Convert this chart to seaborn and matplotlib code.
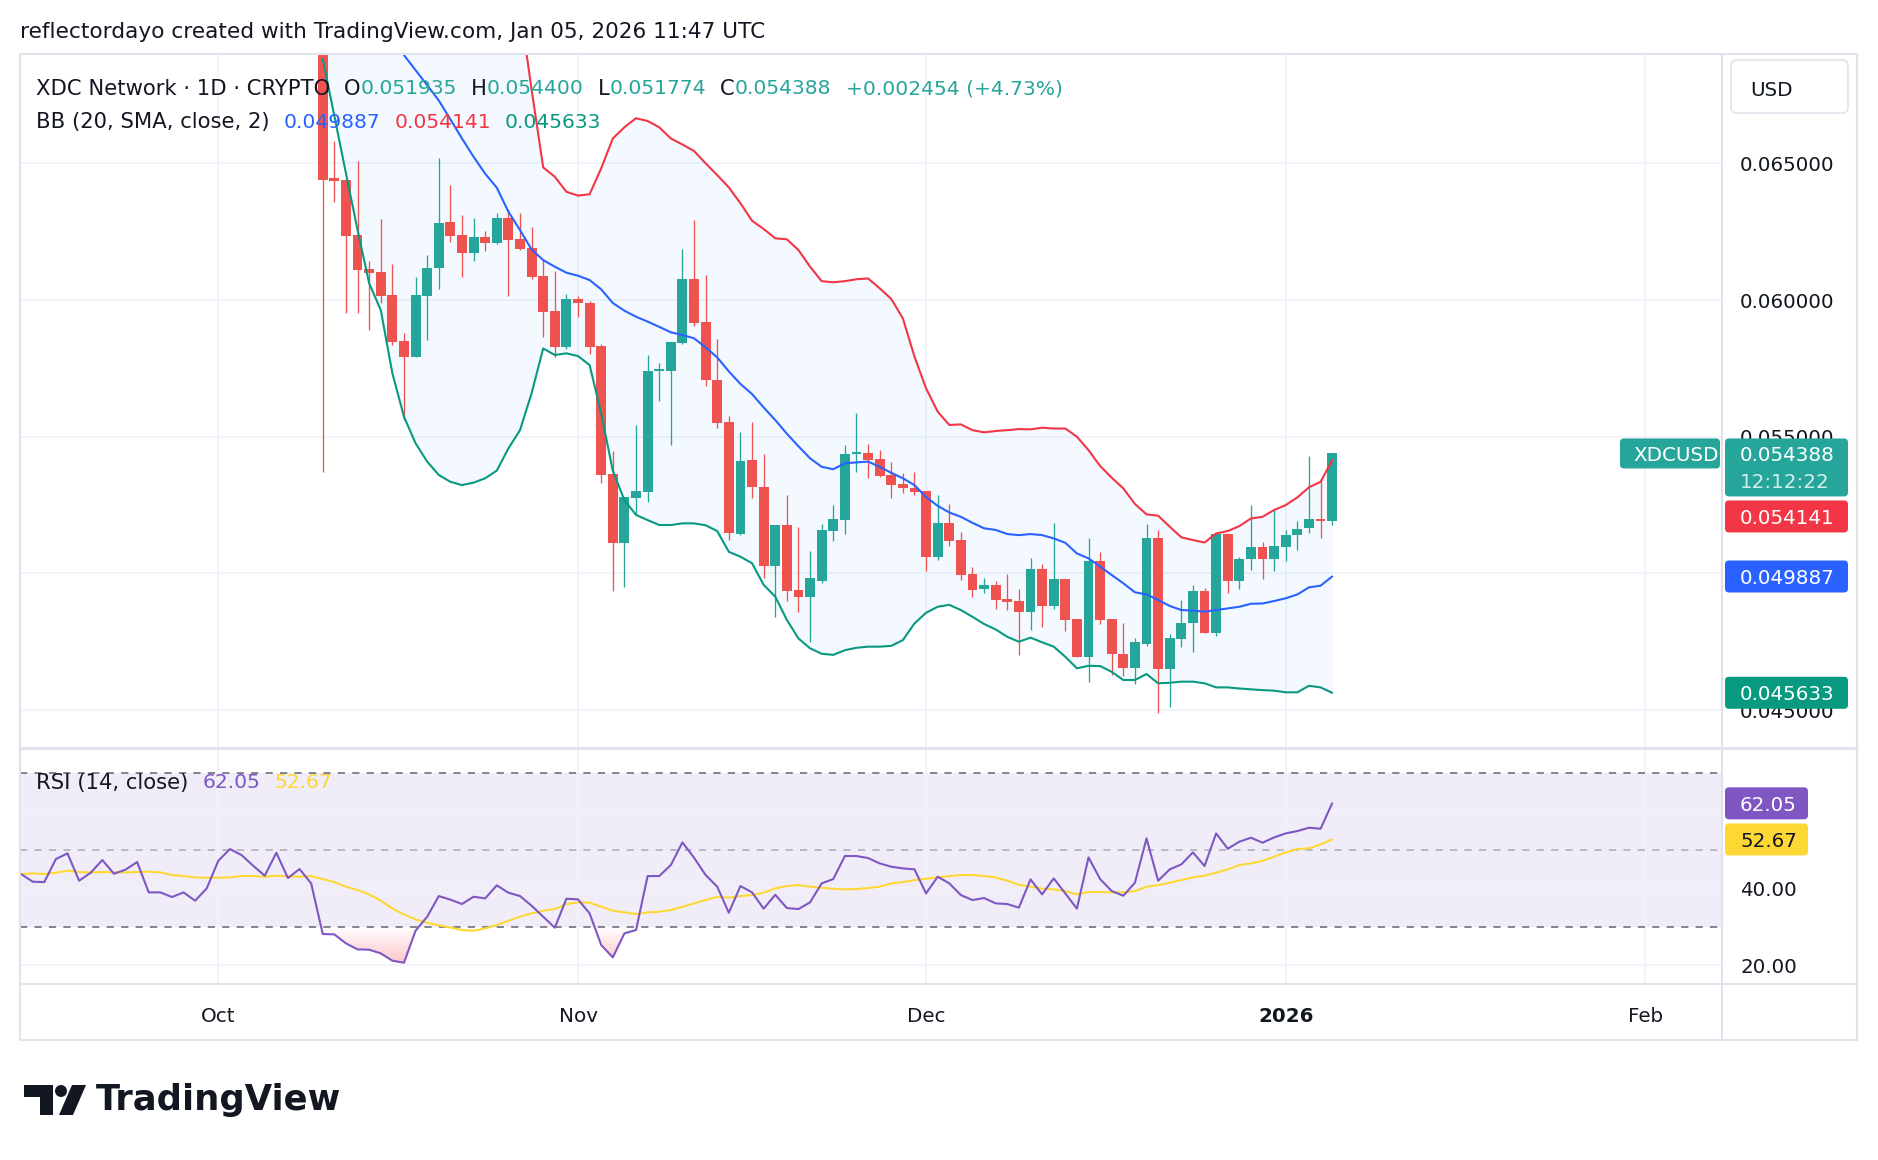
import numpy as np
import pandas as pd
import matplotlib
matplotlib.use("Agg")
import matplotlib.pyplot as plt
import matplotlib.dates as mdates
from matplotlib.patches import FancyBboxPatch, Polygon, Circle
from matplotlib.lines import Line2D
from matplotlib.path import Path
from matplotlib.transforms import IdentityTransform
import seaborn as sns

W, H, DPI = 1878, 1160, 100

# daily candles, Oct 10 2025 .. Jan 5 2026
candle_dates = pd.date_range("2025-10-10", "2026-01-05", freq="D")
opens = [0.0745, 0.06445, 0.06439, 0.06238, 0.06115, 0.06101, 0.06018, 0.05850, 0.05793, 0.06015,
         0.06118, 0.06285, 0.06238, 0.06173, 0.06229, 0.06207, 0.06301, 0.06222, 0.06189, 0.06088,
         0.05960, 0.05827, 0.06002, 0.05988, 0.05832, 0.05364, 0.05110, 0.05277, 0.05299, 0.05742,
         0.05742, 0.05842, 0.06077, 0.05920, 0.05707, 0.05554, 0.05144, 0.05415, 0.05317, 0.05028,
         0.05177, 0.04939, 0.04915, 0.04973, 0.05156, 0.05195, 0.05437, 0.05439, 0.05418, 0.05360,
         0.05326, 0.05314, 0.05301, 0.05061, 0.05186, 0.05122, 0.04998, 0.04942, 0.04957, 0.04906,
         0.04899, 0.04860, 0.05016, 0.04882, 0.04979, 0.04835, 0.04695, 0.05045, 0.04833, 0.04707,
         0.04653, 0.04742, 0.05128, 0.04649, 0.04760, 0.04817, 0.04935, 0.04783, 0.05144, 0.04973,
         0.05051, 0.05096, 0.05051, 0.05098, 0.05139, 0.05165, 0.05199, 0.051935]
highs = [0.0758, 0.06582, 0.06445, 0.06508, 0.06143, 0.06296, 0.06132, 0.05878, 0.06083, 0.06165,
         0.06518, 0.06421, 0.06311, 0.06299, 0.06252, 0.06317, 0.06332, 0.06317, 0.06266, 0.06146,
         0.06106, 0.06022, 0.06015, 0.05995, 0.05839, 0.05449, 0.05281, 0.05543, 0.05799, 0.05768,
         0.05845, 0.06187, 0.06293, 0.06092, 0.05857, 0.05576, 0.05518, 0.05555, 0.05437, 0.05177,
         0.05287, 0.05168, 0.05083, 0.05181, 0.05250, 0.05470, 0.05588, 0.05472, 0.05451, 0.05409,
         0.05366, 0.05370, 0.05301, 0.05287, 0.05254, 0.05150, 0.05022, 0.04982, 0.04972, 0.04998,
         0.04943, 0.05055, 0.05033, 0.05183, 0.04979, 0.04835, 0.05128, 0.05077, 0.04833, 0.04817,
         0.04762, 0.05179, 0.05159, 0.04777, 0.04903, 0.04957, 0.04945, 0.05144, 0.05146, 0.05061,
         0.05252, 0.05115, 0.05232, 0.05159, 0.05191, 0.05429, 0.05341, 0.054400]
lows = [0.05372, 0.06360, 0.05951, 0.05954, 0.05890, 0.05988, 0.05835, 0.05561, 0.05793, 0.05854,
        0.06039, 0.06213, 0.06085, 0.06144, 0.06180, 0.06205, 0.06015, 0.06183, 0.06076, 0.05866,
        0.05790, 0.05820, 0.05937, 0.05802, 0.05329, 0.04937, 0.04951, 0.05214, 0.05262, 0.05632,
        0.05470, 0.05839, 0.05906, 0.05687, 0.05533, 0.05122, 0.05140, 0.05277, 0.04982, 0.04839,
        0.04900, 0.04858, 0.04750, 0.04964, 0.05120, 0.05143, 0.05372, 0.05348, 0.05351, 0.05275,
        0.05295, 0.05287, 0.05009, 0.05049, 0.05101, 0.04976, 0.04915, 0.04927, 0.04870, 0.04866,
        0.04701, 0.04793, 0.04805, 0.04870, 0.04790, 0.04695, 0.04604, 0.04815, 0.04628, 0.04625,
        0.04594, 0.04734, 0.04488, 0.04512, 0.04732, 0.04714, 0.04783, 0.04772, 0.04929, 0.04944,
        0.05012, 0.04979, 0.05010, 0.05046, 0.05085, 0.05146, 0.05128, 0.051774]
closes = [0.06439, 0.06436, 0.06235, 0.06110, 0.06100, 0.06015, 0.05848, 0.05793, 0.06018, 0.06119,
          0.06283, 0.06234, 0.06173, 0.06232, 0.06207, 0.06299, 0.06219, 0.06186, 0.06085, 0.05957,
          0.05827, 0.06002, 0.05988, 0.05829, 0.05360, 0.05110, 0.05281, 0.05303, 0.05740, 0.05746,
          0.05845, 0.06077, 0.05915, 0.05707, 0.05551, 0.05147, 0.05411, 0.05315, 0.05028, 0.05177,
          0.04937, 0.04915, 0.04982, 0.05159, 0.05199, 0.05437, 0.05443, 0.05415, 0.05357, 0.05323,
          0.05311, 0.05299, 0.05061, 0.05186, 0.05120, 0.04994, 0.04939, 0.04957, 0.04903, 0.04896,
          0.04860, 0.05016, 0.04882, 0.04979, 0.04829, 0.04695, 0.05045, 0.04829, 0.04705, 0.04653,
          0.04748, 0.05128, 0.04649, 0.04762, 0.04817, 0.04935, 0.04783, 0.05144, 0.04973, 0.05051,
          0.05096, 0.05051, 0.05100, 0.05139, 0.05162, 0.05199, 0.051934, 0.054388]

# Bollinger bands (20, 2)
bb_upper = [0.0840, 0.0848, 0.0855, 0.0860, 0.0862, 0.0860, 0.0855, 0.0846, 0.0835, 0.0822,
            0.0808, 0.0792, 0.0776, 0.0760, 0.0745, 0.0732, 0.0720, 0.0707, 0.0677, 0.06485,
            0.06451, 0.06396, 0.06382, 0.06387, 0.06482, 0.06591, 0.06632, 0.06665, 0.06655, 0.06632,
            0.06591, 0.06569, 0.06545, 0.06500, 0.06457, 0.06412, 0.06354, 0.06290, 0.06260, 0.06226,
            0.06222, 0.06183, 0.06122, 0.06069, 0.06065, 0.06069, 0.06076, 0.06079, 0.06043, 0.06004,
            0.05933, 0.05793, 0.05677, 0.05592, 0.05543, 0.05545, 0.05524, 0.05516, 0.05521, 0.05524,
            0.05528, 0.05527, 0.05533, 0.05530, 0.05530, 0.05500, 0.05451, 0.05393, 0.05350, 0.05311,
            0.05254, 0.05216, 0.05211, 0.05171, 0.05132, 0.05122, 0.05113, 0.05146, 0.05155, 0.05173,
            0.05201, 0.05207, 0.05232, 0.05250, 0.05278, 0.05315, 0.05335, 0.054141]
bb_mid = [0.0740, 0.0735, 0.0729, 0.0723, 0.0716, 0.0709, 0.0697, 0.06896, 0.06841, 0.06786,
          0.06730, 0.06661, 0.06591, 0.06524, 0.06462, 0.06411, 0.06323, 0.06256, 0.06185, 0.06146,
          0.06122, 0.06100, 0.06089, 0.06073, 0.06039, 0.05989, 0.05961, 0.05939, 0.05921, 0.05902,
          0.05882, 0.05872, 0.05860, 0.05827, 0.05790, 0.05739, 0.05693, 0.05656, 0.05607, 0.05561,
          0.05511, 0.05465, 0.05421, 0.05390, 0.05381, 0.05403, 0.05406, 0.05409, 0.05390, 0.05368,
          0.05348, 0.05323, 0.05279, 0.05247, 0.05223, 0.05207, 0.05185, 0.05165, 0.05159, 0.05144,
          0.05140, 0.05144, 0.05140, 0.05128, 0.05112, 0.05073, 0.05055, 0.05025, 0.04994, 0.04964,
          0.04931, 0.04923, 0.04903, 0.04881, 0.04866, 0.04864, 0.04860, 0.04866, 0.04872, 0.04878,
          0.04889, 0.04890, 0.04899, 0.04909, 0.04923, 0.04949, 0.04955, 0.049887]
bb_lower = [0.06882, 0.06673, 0.06463, 0.06256, 0.06061, 0.05963, 0.05732, 0.05573, 0.05476, 0.05409,
            0.05360, 0.05335, 0.05323, 0.05332, 0.05348, 0.05376, 0.05457, 0.05524, 0.05659, 0.05823,
            0.05799, 0.05805, 0.05795, 0.05762, 0.05585, 0.05375, 0.05268, 0.05214, 0.05195, 0.05177,
            0.05177, 0.05183, 0.05183, 0.05176, 0.05155, 0.05079, 0.05061, 0.05037, 0.04958, 0.04915,
            0.04830, 0.04762, 0.04726, 0.04706, 0.04702, 0.04719, 0.04728, 0.04732, 0.04732, 0.04735,
            0.04756, 0.04817, 0.04856, 0.04878, 0.04885, 0.04866, 0.04841, 0.04815, 0.04795, 0.04768,
            0.04750, 0.04765, 0.04748, 0.04732, 0.04695, 0.04653, 0.04662, 0.04661, 0.04640, 0.04610,
            0.04610, 0.04632, 0.04598, 0.04600, 0.04604, 0.04604, 0.04598, 0.04583, 0.04583, 0.04579,
            0.04576, 0.04573, 0.04571, 0.04565, 0.04565, 0.04589, 0.04583, 0.045633]

# RSI (14) and its moving average, Sep 14 2025 .. Jan 5 2026
rsi_dates = pd.date_range("2025-09-14", "2026-01-05", freq="D")
rsi = [43.68, 41.69, 41.60, 47.58, 49.05, 41.95, 44.03, 47.32, 43.77, 44.81,
       46.80, 38.92, 38.92, 37.71, 38.92, 36.75, 39.96, 47.14, 50.17, 48.61,
       45.84, 43.25, 49.22, 42.64, 44.98, 41.26,
       28.10, 28.01, 25.67, 24.11, 24.03, 23.07, 21.17, 20.65, 28.96, 32.60, 37.97, 37.02, 35.89,
       37.79, 37.36, 40.74, 38.83, 37.97, 35.45, 32.60, 29.74, 37.27, 37.10,
       33.46, 25.24, 22.04, 28.27, 29.13, 43.16, 43.16, 46.02, 51.90, 47.92,
       43.42, 40.39, 33.64, 40.56, 38.92, 34.68, 38.31, 34.85, 34.59, 36.32,
       41.26, 42.38, 48.36, 48.36, 47.84, 46.45, 45.58,
       45.15, 44.89, 38.66, 42.99, 41.26, 38.22, 36.93, 37.45, 36.06, 35.89,
       34.94, 42.29, 38.40, 42.55, 38.66, 34.68, 48.01, 42.38, 39.26, 38.05,
       41.43, 52.94, 41.95, 44.89, 46.19, 49.31, 45.76, 54.24, 50.26, 52.08,
       53.12, 51.82, 53.20, 54.24, 54.85, 55.71, 55.45, 62.05]
rsi_ma = [43.68, 43.85, 43.68, 44.03, 44.55, 44.20, 44.11, 44.20, 44.11, 44.11,
          44.20, 44.29, 44.11, 43.42, 43.16, 42.81, 42.73, 42.73, 42.81, 43.16,
          43.16, 42.99, 43.25, 43.07, 42.99, 43.16,
          42.38, 41.60, 40.39, 39.52, 38.40, 36.75, 34.76, 33.20, 31.90, 31.04, 30.35, 29.80, 29.14,
          28.96, 29.57, 30.43, 31.56, 32.60, 33.46, 34.16, 34.59, 35.89, 36.32,
          36.23, 35.19, 34.16, 33.72, 33.29, 33.72, 33.90, 34.33, 35.19, 36.06,
          36.93, 37.79, 37.53, 37.97, 38.22, 38.83, 39.96, 40.56, 40.82, 40.39,
          40.13, 39.87, 39.70, 39.78, 40.04, 40.39, 41.26,
          41.60, 42.12, 42.47, 42.81, 43.16, 43.42, 43.42, 43.16, 42.81, 41.95,
          40.91, 40.39, 39.87, 39.70, 39.26, 38.40, 39.00, 39.00, 38.92, 38.92,
          39.26, 40.39, 40.82, 41.43, 42.12, 42.81, 43.25, 44.03, 44.89, 46.02,
          46.45, 47.14, 48.18, 49.31, 50.17, 50.35, 51.39, 52.67]

price_ticks = [0.045, 0.050, 0.055, 0.060, 0.065]
rsi_ticks = [20, 40, 60]
month_ticks = pd.to_datetime(["2025-10-01", "2025-11-01", "2025-12-01", "2026-01-01", "2026-02-01"])
month_labels = ["Oct", "Nov", "Dec", "2026", "Feb"]

UP, DOWN = "#26a69a", "#ef5350"
BB_UP, BB_MID, BB_LOW = "#f23645", "#2962ff", "#089981"
RSI_C, MA_C = "#7e57c2", "#fdd835"
TEXT, GRID, BORDER = "#131722", "#f0f3fa", "#e0e3eb"

sns.set_theme(style="white")
plt.rcParams["font.family"] = ["DejaVu Sans"]

fig = plt.figure(figsize=(W / DPI, H / DPI), dpi=DPI, facecolor="white")


def frac(l, t, r, b):
    return [l / W, 1 - b / H, (r - l) / W, (b - t) / H]


ax = fig.add_axes(frac(20.4, 54, 1722, 747))
ax_rsi = fig.add_axes(frac(20.4, 749, 1722, 984), sharex=ax)

x_left = mdates.date2num(pd.Timestamp("2025-10-10")) - 26.06
x_right = mdates.date2num(pd.Timestamp("2025-10-10")) + 120.6

# ---- candles
o, h, l, c = map(np.array, (opens, highs, lows, closes))
cols = np.where(c >= o, UP, DOWN)
body_lo = np.minimum(o, c)
body_h = np.maximum(np.abs(c - o), 0.00004)
ax.vlines(candle_dates, l, h, colors=cols, linewidth=0.95, zorder=3)
ax.bar(candle_dates, body_h, bottom=body_lo, width=0.85, color=cols, linewidth=0, zorder=4)

# ---- bollinger bands
ax.fill_between(candle_dates, bb_lower, bb_upper, color="#2196f3", alpha=0.05, linewidth=0, zorder=1)
for vals, col in ((bb_upper, BB_UP), (bb_mid, BB_MID), (bb_lower, BB_LOW)):
    sns.lineplot(x=candle_dates, y=vals, ax=ax, color=col, linewidth=1.5,
                 sort=False, estimator=None, errorbar=None, zorder=5)

ax.set_xlim(x_left, x_right)
ax.set_ylim(0.04365, 0.0690)
ax.set_yticks(price_ticks)
ax.set_xticks(month_ticks)
ax.grid(True, color=GRID, linewidth=1.3)
ax.tick_params(left=False, bottom=False, labelleft=False, labelbottom=False)
ax.set_xlabel("")
ax.set_ylabel("")
for s in ax.spines.values():
    s.set_visible(False)

# ---- RSI pane
ax_rsi.axhspan(30, 70, color=RSI_C, alpha=0.1, linewidth=0, zorder=0)
ax_rsi.axhline(70, color="#787b86", linestyle=(0, (4, 4)), linewidth=1.3, zorder=2)
ax_rsi.axhline(30, color="#787b86", linestyle=(0, (4, 4)), linewidth=1.3, zorder=2)
ax_rsi.axhline(50, color="#787b86", alpha=0.5, linestyle=(0, (4, 4)), linewidth=1.3, zorder=2)

rsi_arr = np.array(rsi)
xnum = mdates.date2num(rsi_dates)
coll = ax_rsi.fill_between(xnum, rsi_arr, 30, where=rsi_arr < 30, interpolate=True,
                           facecolor="none", edgecolor="none")
grad = np.zeros((100, 2, 4))
grad[..., 0], grad[..., 1], grad[..., 2] = 242 / 255, 54 / 255, 69 / 255
grad[..., 3] = np.linspace(0.0, 0.45, 100)[:, None]
im = ax_rsi.imshow(grad, extent=[x_left, x_right, 15, 30], origin="upper",
                   aspect="auto", zorder=1, interpolation="bilinear")
im.set_clip_path(Path.make_compound_path(*coll.get_paths()), ax_rsi.transData)

sns.lineplot(x=rsi_dates, y=rsi_ma, ax=ax_rsi, color=MA_C, linewidth=1.5,
             sort=False, estimator=None, errorbar=None, zorder=3)
sns.lineplot(x=rsi_dates, y=rsi, ax=ax_rsi, color=RSI_C, linewidth=1.5,
             sort=False, estimator=None, errorbar=None, zorder=4)

ax_rsi.set_xlim(x_left, x_right)
ax_rsi.set_ylim(15.12, 76.16)
ax_rsi.set_yticks(rsi_ticks)
ax_rsi.set_xticks(month_ticks)
ax_rsi.grid(True, color=GRID, linewidth=1.3)
ax_rsi.tick_params(left=False, bottom=False, labelleft=False, labelbottom=False)
ax_rsi.set_xlabel("")
ax_rsi.set_ylabel("")
ax_rsi.set_facecolor("none")
for s in ax_rsi.spines.values():
    s.set_visible(False)


# ---- frame lines (figure pixels, top-origin converted)
def hline_px(x0, x1, y, lw=1.5, col=BORDER):
    fig.add_artist(Line2D([x0, x1], [H - y, H - y], transform=IdentityTransform(),
                          color=col, linewidth=lw, zorder=1))


def vline_px(x, y0, y1, lw=1.5, col=BORDER):
    fig.add_artist(Line2D([x, x], [H - y0, H - y1], transform=IdentityTransform(),
                          color=col, linewidth=lw, zorder=1))


hline_px(20, 1857, 54)
hline_px(20, 1857, 1040)
hline_px(20, 1857, 748, lw=2.2)
hline_px(20, 1857, 984)
vline_px(20, 54, 1040)
vline_px(1857, 54, 1040)
vline_px(1722, 54, 1040)

fig.canvas.draw()
renderer = fig.canvas.get_renderer()


def y_top(axis, val):
    return H - axis.transData.transform((x_left, val))[1]


def x_px(date):
    return ax.transData.transform((mdates.date2num(date), 0))[0]


def tag(x0, x1, top, bottom, color):
    fig.add_artist(FancyBboxPatch((x0, H - bottom), x1 - x0, bottom - top,
                                  boxstyle="round,pad=0,rounding_size=4",
                                  transform=IdentityTransform(), facecolor=color,
                                  edgecolor="none", zorder=8))


def label(x, y, s, color=TEXT, size=14.3, weight="normal", ha="left", z=9, alpha=1.0,
          va="center_baseline"):
    return fig.text(x / W, 1 - y / H, s, color=color, fontsize=size, fontweight=weight,
                    ha=ha, va=va, zorder=z, alpha=alpha)


# price scale labels
for p in price_ticks:
    label(1740, y_top(ax, p), f"{p:.6f}", z=7)
for r in rsi_ticks:
    label(1740, y_top(ax_rsi, r), f"{r:.2f}", z=7)

# stacked value tags on the price scale
yc = y_top(ax, closes[-1])
tag(1725, 1848, yc - 15, yc + 43, UP)
label(1740, yc, f"{closes[-1]:.6f}", color="white", z=9)
label(1740, yc + 27, "12:12:22", color="white", z=9, alpha=0.8)
tag(1620, 1720, yc - 15, yc + 15, UP)
label(1633, yc, "XDCUSD", color="white", z=9)
bottom_prev = yc + 43

for val, col in ((bb_upper[-1], BB_UP), (bb_mid[-1], BB_MID), (bb_lower[-1], BB_LOW)):
    yv = max(y_top(ax, val), bottom_prev + 4 + 16)
    tag(1725, 1848, yv - 16, yv + 16, col)
    label(1740, yv, f"{val:.6f}", color="white")
    bottom_prev = yv + 16

yr = y_top(ax_rsi, rsi[-1])
tag(1725, 1808, yr - 16, yr + 16, RSI_C)
label(1740, yr, f"{rsi[-1]:.2f}", color="white")
ym = max(y_top(ax_rsi, rsi_ma[-1]), yr + 16 + 4 + 16)
tag(1725, 1808, ym - 16, ym + 16, MA_C)
label(1740, ym, f"{rsi_ma[-1]:.2f}", color=TEXT)

# USD box
fig.add_artist(FancyBboxPatch((1731, H - 113), 117, 53, boxstyle="round,pad=0,rounding_size=6",
                              transform=IdentityTransform(), facecolor="white",
                              edgecolor=BORDER, linewidth=1.2, zorder=8))
label(1750, 88, "USD")

# time axis
for d, s in zip(month_ticks, month_labels):
    label(x_px(d), 1014, s, ha="center", weight="bold" if s == "2026" else "normal")


# legends: (text, colour, gap after, font size)
def legend_row(x, y, parts):
    for s, col, gap, size in parts:
        t = label(x, y, s, color=col, size=size, z=10)
        x += t.get_window_extent(renderer).width + gap


TS, NS = 15.2, 14.6
chg = closes[-1] - closes[-2]
legend_row(36, 87, [("XDC Network · 1D · CRYPTO", TEXT, 14, TS),
                    ("O", TEXT, 0, TS), (f"{opens[-1]:.6f}", UP, 14, NS),
                    ("H", TEXT, 0, TS), (f"{highs[-1]:.6f}", UP, 14, NS),
                    ("L", TEXT, 0, TS), (f"{lows[-1]:.6f}", UP, 14, NS),
                    ("C", TEXT, 0, TS), (f"{closes[-1]:.6f}", UP, 14, NS),
                    (f"+{chg:.6f} (+{chg / closes[-2] * 100:.2f}%)", UP, 0, NS)])
legend_row(36, 120, [("BB (20, SMA, close, 2)", TEXT, 14, TS),
                     (f"{bb_mid[-1]:.6f}", BB_MID, 14, NS),
                     (f"{bb_upper[-1]:.6f}", BB_UP, 14, NS),
                     (f"{bb_lower[-1]:.6f}", BB_LOW, 0, NS)])
legend_row(36, 781, [("RSI (14, close)", TEXT, 14, TS),
                     (f"{rsi[-1]:.2f}", RSI_C, 14, NS),
                     (f"{rsi_ma[-1]:.2f}", MA_C, 0, NS)])

# watermark header
label(20, 30, "reflectordayo created with TradingView.com, Jan 05, 2026 11:47 UTC", size=15.6)

# TradingView logo
logo_a = [(24, 1085), (52.7, 1085), (52.7, 1115), (39.5, 1115), (39.5, 1097), (24, 1097)]
logo_c = [(72, 1085), (86, 1085), (73, 1115), (59, 1115)]
for pts in (logo_a, logo_c):
    fig.add_artist(Polygon([(x, H - y) for x, y in pts], closed=True, transform=IdentityTransform(),
                           facecolor=TEXT, edgecolor="none", zorder=8))
fig.add_artist(Circle((61, H - 1091), 6, transform=IdentityTransform(), facecolor=TEXT,
                      edgecolor="none", zorder=8))
label(96, 1100, "TradingView", size=25.5, weight="bold", va="center")

fig.savefig("out.png", dpi=DPI, facecolor="white")
